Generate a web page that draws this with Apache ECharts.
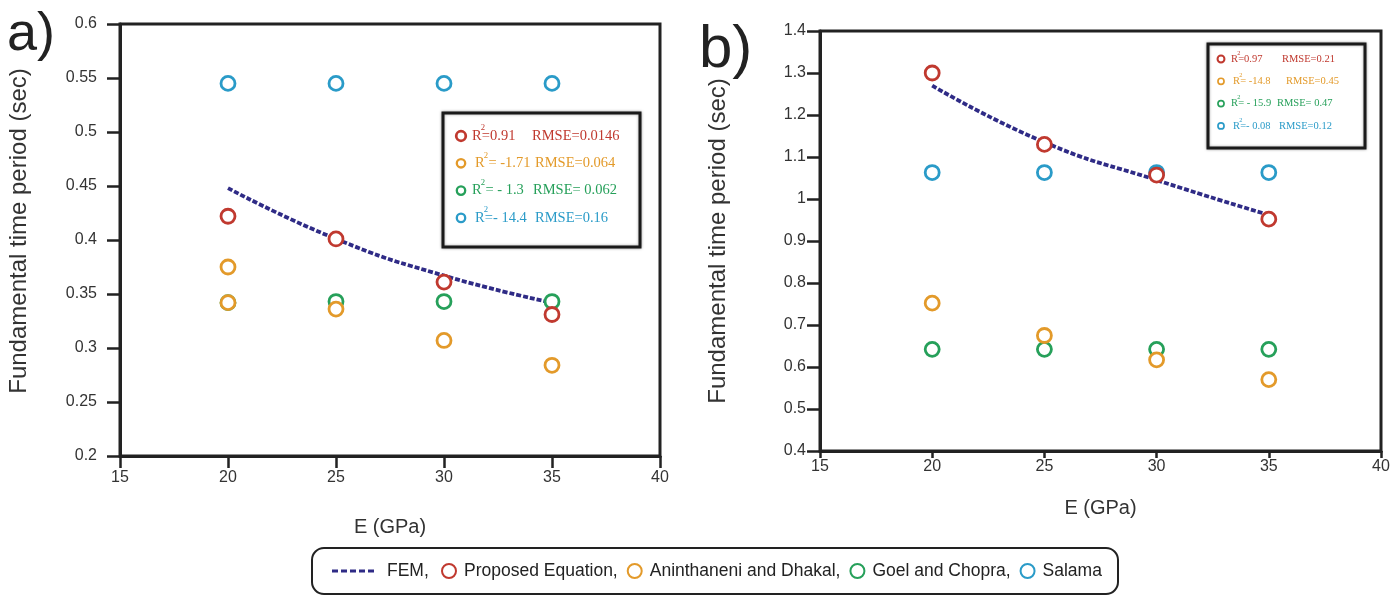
<!DOCTYPE html>
<html><head><meta charset="utf-8">
<script src="https://cdn.jsdelivr.net/npm/echarts@6/dist/echarts.min.js"></script>
<style>html,body{margin:0;padding:0;background:#fff}#c{width:1400px;height:596px}</style>
</head><body><div id="c"></div>
<script>
// ---------- data ----------
const E = [20, 25, 30, 35];
const xTicks = [15, 20, 25, 30, 35, 40];
const yTicksA = [0.2, 0.25, 0.3, 0.35, 0.4, 0.45, 0.5, 0.55, 0.6];
const yTicksB = [0.4, 0.5, 0.6, 0.7, 0.8, 0.9, 1, 1.1, 1.2, 1.3, 1.4];

// panel a
const femA = [0.448, 0.401, 0.367, 0.342];
const propA = [0.422, 0.401, 0.361, 0.331];
const aninA_E = [20, 20, 25, 30, 35];
const aninA = [0.375, 0.342, 0.336, 0.307, 0.284];
const goelA = [0.342, 0.343, 0.343, 0.343];
const salamaA = [0.545, 0.545, 0.545, 0.545];
const r2A = ['=0.91', ' = -1.71', ' = - 1.3', '=- 14.4'];
const rmseA = ['RMSE=0.0146', 'RMSE=0.064', 'RMSE= 0.062', 'RMSE=0.16'];

// panel b
const femB = [1.270, 1.135, 1.045, 0.962];
const propB = [1.300, 1.130, 1.057, 0.952];
const aninB = [0.752, 0.675, 0.617, 0.570];
const goelB = [0.642, 0.642, 0.642, 0.642];
const salamaB = [1.063, 1.063, 1.063, 1.063];
const r2B = ['=0.97', '= -14.8', '= - 15.9', '=- 0.08'];
const rmseB = ['RMSE=0.21', 'RMSE=0.45', 'RMSE= 0.47', 'RMSE=0.12'];

const names = ['FEM', 'Proposed Equation', 'Aninthaneni and Dhakal', 'Goel and Chopra', 'Salama'];
const colors = {red: '#c0392f', orange: '#e39a2a', green: '#26a05a', blue: '#2a9bc8', navy: '#2f2b86'};
// ---------------------------

const zip = (xs, ys) => ys.map((y, i) => [xs[i], y]);
const chart = echarts.init(document.getElementById('c'));
const font = 'Liberation Sans, Arial, sans-serif';
const serif = 'Liberation Serif, Times New Roman, serif';

function xAxis(gi, tickLen, labelMargin, nameGap) {
  return {
    type: 'value', gridIndex: gi, min: 15, max: 40, interval: 5,
    name: 'E (GPa)', nameLocation: 'middle', nameGap: nameGap,
    nameTextStyle: {fontSize: 20, color: '#333', fontFamily: font},
    axisLine: {show: true, lineStyle: {color: '#222', width: 3}},
    axisTick: {show: true, length: tickLen, lineStyle: {color: '#222', width: 2.5}},
    axisLabel: {fontSize: 16, color: '#333', fontFamily: font, margin: labelMargin},
    splitLine: {show: false}
  };
}
function yAxis(gi, min, max, interval, labelMargin, decimals, nameGap, namePad) {
  return {
    type: 'value', gridIndex: gi, min: min, max: max, interval: interval,
    name: 'Fundamental time period (sec)', nameLocation: 'middle', nameGap: nameGap,
    nameTextStyle: {fontSize: 24, color: '#333', fontFamily: font, padding: namePad},
    axisLine: {show: true, lineStyle: {color: '#222', width: 3}},
    axisTick: {show: true, length: 13, lineStyle: {color: '#222', width: 2.5}},
    axisLabel: {fontSize: 16, color: '#333', fontFamily: font, margin: labelMargin,
      formatter: v => String(parseFloat(v.toFixed(decimals)))},
    splitLine: {show: false}
  };
}
function scatter(name, data, color, xi) {
  return {
    type: 'scatter', name: name, xAxisIndex: xi, yAxisIndex: xi, data: data,
    symbol: 'circle', symbolSize: 14,
    itemStyle: {color: '#fff', borderColor: color, borderWidth: 2.8, opacity: 1},
    z: 3
  };
}
function fem(data, xi) {
  return {
    type: 'line', name: 'FEM', xAxisIndex: xi, yAxisIndex: xi, data: data,
    smooth: true, showSymbol: false, symbol: 'none',
    lineStyle: {color: colors.navy, width: 3.8, type: [5, 2]},
    itemStyle: {color: colors.navy}, z: 2
  };
}

// layout: box {x,y,w,h}, font size, row gap, R x, RMSE x per row, circle x, first row y
function statBox(L, r2, rmse, cols) {
  const children = [{
    type: 'rect', shape: {x: L.x, y: L.y, width: L.w, height: L.h},
    style: {fill: '#fff', stroke: '#1a1a1a', lineWidth: 3, shadowBlur: 3, shadowColor: 'rgba(0,0,0,0.35)'}
  }];
  r2.forEach((t, i) => {
    const cy = L.firstY + i * L.rowGap;
    const c = cols[i];
    children.push({type: 'circle', shape: {cx: L.circX, cy: cy, r: i === 0 ? L.fs * 0.33 : L.fs * 0.29},
      style: {fill: 'none', stroke: c, lineWidth: i === 0 ? L.fs * 0.19 : L.fs * 0.16}});
    children.push({type: 'text', x: L.rX[i], y: cy,
      style: {text: 'R', fill: c, fontFamily: serif, fontSize: L.fs, verticalAlign: 'middle'}});
    children.push({type: 'text', x: L.rX[i] + L.fs * 0.6, y: cy - L.fs * 0.55,
      style: {text: '2', fill: c, fontFamily: serif, fontSize: L.fs * 0.6, verticalAlign: 'middle'}});
    children.push({type: 'text', x: L.rX[i] + L.fs * 0.68, y: cy,
      style: {text: t, fill: c, fontFamily: serif, fontSize: L.fs, verticalAlign: 'middle'}});
    children.push({type: 'text', x: L.mX[i], y: cy,
      style: {text: rmse[i], fill: c, fontFamily: serif, fontSize: L.fs, verticalAlign: 'middle'}});
  });
  return {type: 'group', children: children};
}

const rowCols = [colors.red, colors.orange, colors.green, colors.blue];
const femIcon = 'path://M0,0h6v3h-6zM9,0h6v3h-6zM18,0h6v3h-6zM27,0h6v3h-6zM36,0h6v3h-6z';

chart.setOption({
  animation: false,
  backgroundColor: '#fff',
  grid: [
    {left: 120, top: 24, width: 540, height: 432, show: true, borderColor: '#222', borderWidth: 3, backgroundColor: '#fff'},
    {left: 820, top: 31, width: 561, height: 420, show: true, borderColor: '#222', borderWidth: 3, backgroundColor: '#fff'}
  ],
  xAxis: [xAxis(0, 12, 14, 61), xAxis(1, 7, 8, 47)],
  yAxis: [yAxis(0, 0.2, 0.6, 0.05, 23, 2, 89, [0, 0, 0, 18]), yAxis(1, 0.4, 1.4, 0.1, 14, 1, 90, 0)],
  legend: [
    {
      left: 332, top: 562, padding: 0, data: [{name: 'FEM', icon: femIcon}],
      itemWidth: 42, itemHeight: 3, itemGap: 8,
      textStyle: {fontSize: 17.5, color: '#222', fontFamily: font, padding: [0, 0, 0, 8]},
      formatter: n => n + ',', selectedMode: false
    },
    {
      left: 441, top: 562, padding: 0, data: names.slice(1),
      itemWidth: 14, itemHeight: 14, itemGap: 9,
      textStyle: {fontSize: 17.5, color: '#222', fontFamily: font, padding: [0, 0, 0, 3]},
      formatter: n => n === 'Salama' ? n : n + ',', selectedMode: false
    }
  ],
  series: [
    fem(zip(E, femA), 0),
    scatter('Salama', zip(E, salamaA), colors.blue, 0),
    scatter('Goel and Chopra', zip(E, goelA), colors.green, 0),
    scatter('Aninthaneni and Dhakal', zip(aninA_E, aninA), colors.orange, 0),
    scatter('Proposed Equation', zip(E, propA), colors.red, 0),
    fem(zip(E, femB), 1),
    scatter('Salama', zip(E, salamaB), colors.blue, 1),
    scatter('Goel and Chopra', zip(E, goelB), colors.green, 1),
    scatter('Aninthaneni and Dhakal', zip(E, aninB), colors.orange, 1),
    scatter('Proposed Equation', zip(E, propB), colors.red, 1)
  ],
  graphic: [
    {type: 'text', left: 7, top: 8, style: {text: 'a)', fontSize: 54, fill: '#222', fontFamily: font}},
    {type: 'text', left: 699, top: 20, style: {text: 'b)', fontSize: 60, fill: '#222', fontFamily: font}},
    {type: 'rect', shape: {x: 312, y: 548, width: 806, height: 46, r: 12},
      style: {fill: 'none', stroke: '#222', lineWidth: 2}, z: -1},
    statBox({x: 443, y: 113, w: 197, h: 134, fs: 14.5, rowGap: 27.3, circX: 461, firstY: 136,
      rX: [472, 475, 472, 475], mX: [532, 535, 533, 535]}, r2A, rmseA, rowCols),
    statBox({x: 1208, y: 44, w: 157, h: 104, fs: 10.5, rowGap: 22.3, circX: 1221, firstY: 59,
      rX: [1231, 1233, 1231, 1233], mX: [1282, 1286, 1277, 1279]}, r2B, rmseB, rowCols)
  ]
});
</script></body></html>
